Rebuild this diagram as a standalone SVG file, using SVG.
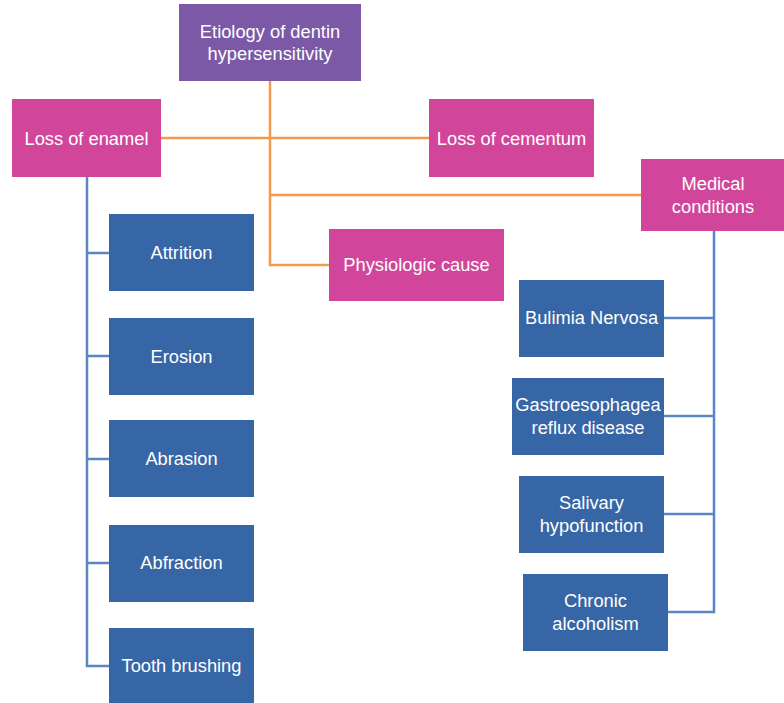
<svg xmlns="http://www.w3.org/2000/svg" width="784" height="703" viewBox="0 0 784 703">
<style>
.root{fill:#7B59A6}
.mag{fill:#D1469B}
.blue{fill:#3766A6}
text{font-family:"Liberation Sans",Arial,sans-serif;font-size:18.3px;fill:#fff;text-anchor:middle}
.o{stroke:#F39A4A;stroke-width:2.5;fill:none}
.b{stroke:#5A86C5;stroke-width:2.5;fill:none}
</style>
<rect width="784" height="703" fill="#fff"/>
<g id="connectors">
<path class="o" d="M270 81V265H329M161 138H429M270 195H641"/>
<path class="b" d="M87 177V666H109M87 253H109M87 356H109M87 459H109M87 563H109"/>
<path class="b" d="M714 231V612H668M664 318H714M664 416H714M664 514H714"/>
</g>
<g id="root"><rect class="root" x="179" y="4" width="182" height="77"/><text x="270" y="38">Etiology of dentin</text><text x="270" y="60">hypersensitivity</text></g>
<g id="enamel"><rect class="mag" x="12" y="99" width="149" height="78"/><text x="86.5" y="145">Loss of enamel</text></g>
<g id="cementum"><rect class="mag" x="429" y="99" width="165" height="78"/><text x="511.5" y="145">Loss of cementum</text></g>
<g id="medical"><rect class="mag" x="641" y="159" width="143" height="72"/><text x="713" y="190">Medical</text><text x="713" y="213">conditions</text></g>
<g id="physio"><rect class="mag" x="329" y="229" width="175" height="72"/><text x="416.5" y="271">Physiologic cause</text></g>
<g id="attrition"><rect class="blue" x="109" y="214" width="145" height="77"/><text x="181.5" y="259">Attrition</text></g>
<g id="erosion"><rect class="blue" x="109" y="318" width="145" height="77"/><text x="181.5" y="363">Erosion</text></g>
<g id="abrasion"><rect class="blue" x="109" y="420" width="145" height="77"/><text x="181.5" y="465">Abrasion</text></g>
<g id="abfraction"><rect class="blue" x="109" y="525" width="145" height="77"/><text x="181.5" y="569">Abfraction</text></g>
<g id="brushing"><rect class="blue" x="109" y="628" width="145" height="75"/><text x="181.5" y="672">Tooth brushing</text></g>
<g id="bulimia"><rect class="blue" x="519" y="280" width="145" height="77"/><text x="591.5" y="324">Bulimia Nervosa</text></g>
<g id="gerd"><rect class="blue" x="512" y="378" width="152" height="77"/><text x="588" y="411">Gastroesophagea</text><text x="588" y="434">reflux disease</text></g>
<g id="salivary"><rect class="blue" x="519" y="476" width="145" height="77"/><text x="591.5" y="509">Salivary</text><text x="591.5" y="532">hypofunction</text></g>
<g id="alcohol"><rect class="blue" x="523" y="574" width="145" height="77"/><text x="595.5" y="607">Chronic</text><text x="595.5" y="630">alcoholism</text></g>
</svg>
